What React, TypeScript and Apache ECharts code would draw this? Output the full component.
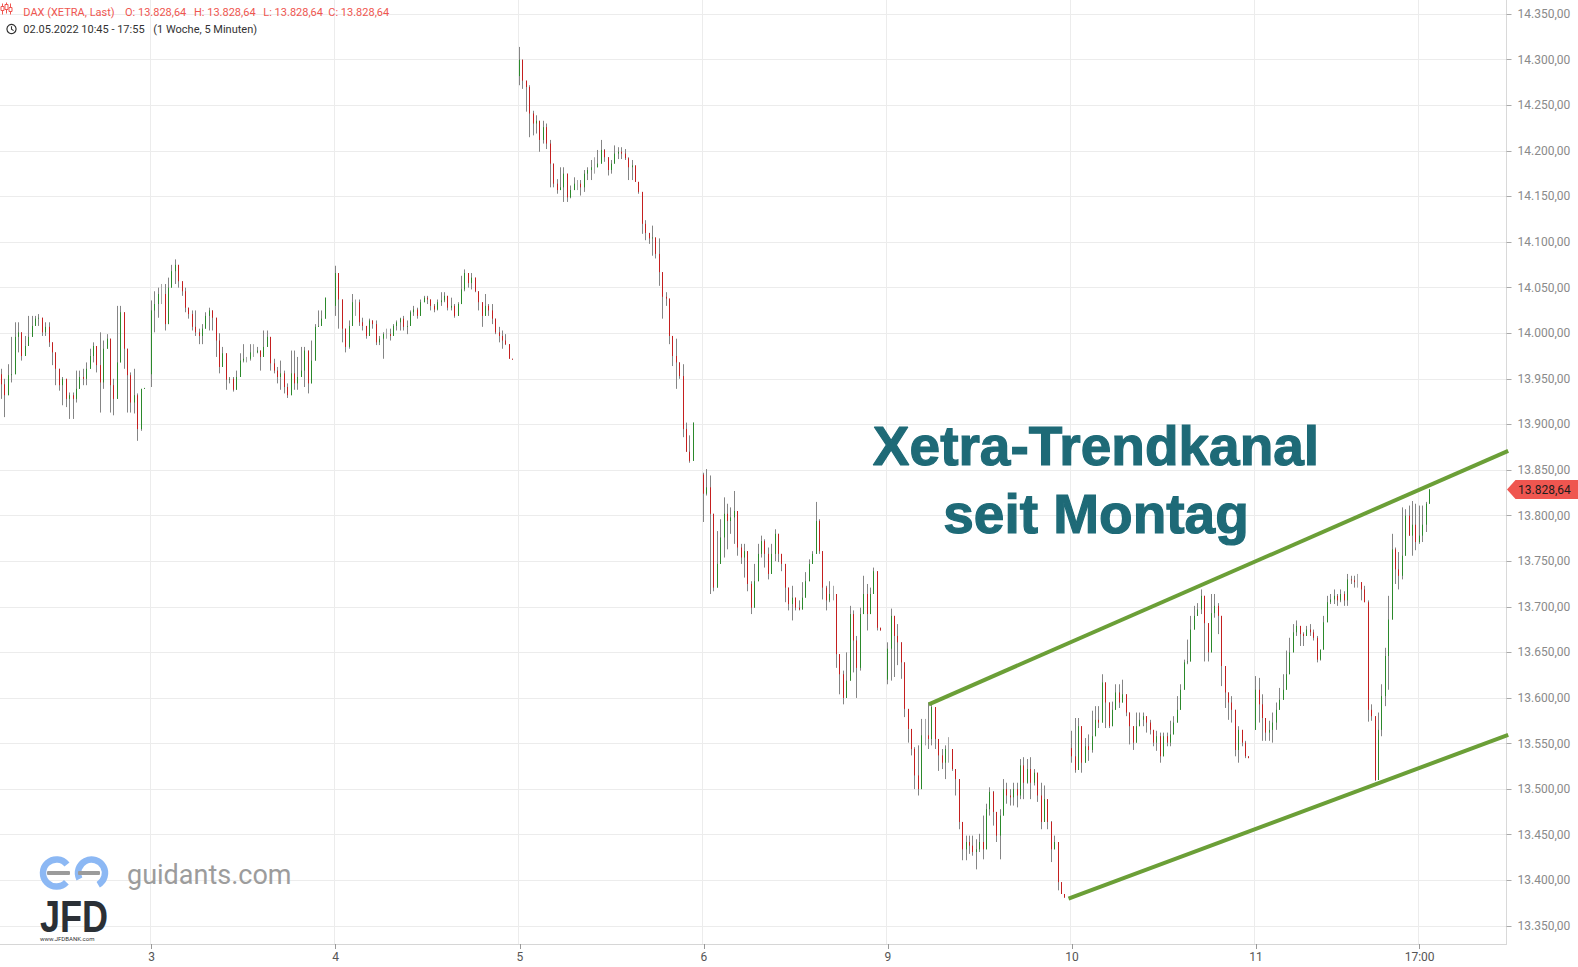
import React, { useEffect, useRef } from 'react';
import * as echarts from 'echarts';

// Trading sessions, 10-minute candles. Each session lists closes, highs and lows in order;
// a candle opens where the previous one closed (the first one at the session open).
const sessionDays = ['2', '3', '4', '5', '6', '9', '10', '11'];
const sessionFirstSlot = ['10:40', '09:00', '09:00', '09:00', '09:00', '09:00', '09:00', '09:00'];
const sessionOpens = [13955, 13955, 14030, 14282, 13845, 13620, 13545, 13565];

const closesMay02 = [
  13944, 13932, 13954, 13955, 13996, 14001, 13975, 13986, 13996, 14008,
  14016, 14017, 14001, 14007, 13990, 13979, 13961, 13943, 13950, 13928,
  13932, 13928, 13939, 13952, 13950, 13961, 13975, 13986, 13965, 13946,
  13983, 13994, 13943, 13928, 13968, 14023, 13983, 13954, 13924, 13932,
  13895, 13939, 13940, 13940,
];
const highsMay02 = [
  13961, 13950, 13966, 13996, 14012, 14012, 13996, 13997, 14019, 14019,
  14019, 14021, 14012, 14012, 14012, 13985, 13979, 13952, 13952, 13943,
  13935, 13935, 13959, 13959, 13961, 13968, 13983, 13990, 13986, 14001,
  13992, 13999, 13986, 13950, 14030, 14030, 13994, 13976, 13957, 13961,
  13934, 13939, 13940, 13940,
];
const lowsMay02 = [
  13928, 13908, 13946, 13946, 13996, 13979, 13970, 13979, 13986, 14001,
  14012, 14008, 13997, 13997, 13985, 13965, 13943, 13937, 13921, 13919,
  13906, 13906, 13924, 13943, 13943, 13943, 13963, 13968, 13957, 13913,
  13939, 13985, 13913, 13910, 13935, 13976, 13961, 13913, 13913, 13912,
  13882, 13893, 13940, 13940,
];

const closesMay03 = [
  14025, 14032, 14043, 14043, 14010, 14050, 14068, 14075, 14057, 14046,
  14028, 14021, 14007, 14001, 13997, 14005, 14019, 14025, 14017, 13992,
  13963, 13978, 13949, 13950, 13938, 13952, 13970, 13972, 13972, 13979,
  13979, 13981, 13974, 13985, 13996, 13967, 13959, 13952, 13956, 13941,
  13932, 13956, 13945, 13952, 13959, 13981, 13945, 13970, 14007, 14008,
  14016, 14039, 14039, 14039,
];
const highsMay03 = [
  14036, 14046, 14050, 14054, 14054, 14061, 14075, 14081, 14075, 14054,
  14050, 14025, 14025, 14025, 14005, 14010, 14023, 14028, 14023, 14007,
  14000, 13985, 13970, 13952, 13952, 13959, 13978, 13988, 13974, 13988,
  13988, 13985, 13981, 14003, 14003, 13992, 13972, 13963, 13970, 13959,
  13945, 13981, 13981, 13974, 13985, 13985, 13963, 13992, 14010, 14025,
  14025, 14039, 14039, 14039,
];
const lowsMay03 = [
  13941, 14001, 14017, 14032, 14003, 14025, 14057, 14054, 14050, 14041,
  14023, 14016, 14003, 13997, 13988, 13988, 14005, 14003, 14003, 13974,
  13956, 13967, 13938, 13945, 13936, 13947, 13959, 13968, 13968, 13970,
  13974, 13978, 13959, 13978, 13985, 13959, 13956, 13945, 13938, 13934,
  13929, 13945, 13938, 13938, 13952, 13941, 13934, 13963, 13990, 14007,
  14014, 14016, 14039, 14039,
];

const closesMay04 = [
  14066, 14037, 14005, 13985, 14008, 14034, 14034, 14012, 14008, 13997,
  14014, 14010, 13990, 13994, 13999, 13999, 13997, 14008, 14012, 14016,
  14007, 14008, 14023, 14026, 14019, 14034, 14039, 14037, 14030, 14026,
  14034, 14036, 14041, 14028, 14030, 14019, 14032, 14048, 14066, 14055,
  14061, 14046, 14034, 14019, 14030, 14025, 14016, 14001, 13997, 13992,
  13988, 13972, 13971, 13971,
];
const highsMay04 = [
  14074, 14039, 14034, 13994, 14014, 14043, 14037, 14037, 14017, 14008,
  14016, 14014, 14014, 13997, 14001, 14005, 14005, 14010, 14014, 14017,
  14019, 14014, 14025, 14030, 14028, 14037, 14041, 14041, 14037, 14032,
  14037, 14045, 14045, 14037, 14039, 14032, 14034, 14063, 14070, 14066,
  14066, 14057, 14046, 14034, 14043, 14032, 14032, 14010, 14007, 14003,
  13999, 13985, 13971, 13971,
];
const lowsMay04 = [
  14019, 14005, 13990, 13979, 13983, 14008, 14019, 14008, 14003, 13994,
  14001, 14005, 13987, 13987, 13972, 13994, 13992, 14001, 14003, 14003,
  14003, 13999, 14008, 14019, 14016, 14025, 14034, 14032, 14025, 14023,
  14025, 14030, 14034, 14025, 14025, 14017, 14023, 14039, 14046, 14050,
  14048, 14045, 14025, 14007, 14025, 14019, 14010, 13999, 13990, 13983,
  13987, 13972, 13971, 13971,
];

const closesMay05 = [
  14300, 14277, 14270, 14241, 14230, 14233, 14212, 14226, 14208, 14186,
  14164, 14157, 14160, 14175, 14149, 14157, 14164, 14164, 14160, 14175,
  14179, 14182, 14182, 14186, 14201, 14193, 14179, 14186, 14197, 14199,
  14197, 14192, 14182, 14184, 14166, 14155, 14120, 14110, 14104, 14105,
  14087, 14067, 14040, 14038, 13997, 13975, 13968, 13953, 13895, 13870,
  13860, 13902, 13902, 13902,
];
const highsMay05 = [
  14314, 14296, 14274, 14272, 14244, 14239, 14233, 14233, 14230, 14212,
  14182, 14169, 14182, 14182, 14164, 14162, 14171, 14168, 14168, 14179,
  14182, 14190, 14193, 14201, 14212, 14202, 14186, 14190, 14206, 14204,
  14204, 14202, 14193, 14190, 14184, 14164, 14153, 14124, 14109, 14118,
  14104, 14104, 14049, 14045, 14034, 13990, 13994, 13966, 13966, 13902,
  13888, 13902, 13902, 13902,
];
const lowsMay05 = [
  14272, 14268, 14243, 14215, 14217, 14219, 14199, 14208, 14202, 14160,
  14160, 14153, 14157, 14144, 14144, 14148, 14157, 14157, 14151, 14155,
  14168, 14168, 14175, 14182, 14190, 14188, 14173, 14175, 14190, 14191,
  14191, 14190, 14168, 14168, 14166, 14153, 14109, 14102, 14098, 14085,
  14082, 14052, 14016, 14030, 13988, 13964, 13939, 13950, 13886, 13871,
  13858, 13888, 13902, 13902,
];

const closesMay06 = [
  13824, 13831, 13802, 13721, 13747, 13776, 13802, 13794, 13798, 13805,
  13765, 13754, 13761, 13725, 13699, 13728, 13758, 13772, 13758, 13736,
  13758, 13780, 13758, 13747, 13721, 13703, 13710, 13699, 13697, 13710,
  13728, 13747, 13758, 13794, 13761, 13721, 13707, 13714, 13714, 13648,
  13626, 13600, 13619, 13692, 13663, 13633, 13692, 13714, 13692, 13714,
  13739, 13677, 13674, 13674,
];
const highsMay06 = [
  13847, 13851, 13844, 13734, 13783, 13796, 13820, 13813, 13809, 13827,
  13780, 13769, 13769, 13736, 13728, 13747, 13769, 13778, 13774, 13765,
  13769, 13785, 13771, 13754, 13739, 13710, 13723, 13707, 13707, 13727,
  13738, 13752, 13761, 13815, 13796, 13758, 13723, 13728, 13723, 13707,
  13633, 13630, 13650, 13701, 13696, 13668, 13699, 13734, 13725, 13721,
  13743, 13714, 13674, 13674,
];
const lowsMay06 = [
  13793, 13822, 13714, 13717, 13728, 13754, 13754, 13763, 13780, 13769,
  13756, 13747, 13732, 13717, 13692, 13717, 13743, 13754, 13743, 13730,
  13750, 13750, 13749, 13739, 13705, 13696, 13685, 13696, 13696, 13701,
  13719, 13736, 13750, 13771, 13758, 13708, 13696, 13705, 13707, 13633,
  13604, 13593, 13619, 13641, 13628, 13600, 13630, 13696, 13674, 13707,
  13714, 13674, 13674, 13674,
];

const closesMay09 = [
  13654, 13690, 13668, 13661, 13639, 13588, 13566, 13544, 13515, 13500,
  13559, 13559, 13555, 13590, 13555, 13537, 13529, 13544, 13544, 13522,
  13511, 13464, 13434, 13442, 13438, 13431, 13434, 13442, 13434, 13478,
  13497, 13475, 13449, 13471, 13500, 13493, 13491, 13500, 13493, 13526,
  13507, 13522, 13507, 13518, 13493, 13464, 13489, 13464, 13434, 13442,
  13398, 13385, 13381, 13381,
];
const highsMay09 = [
  13661, 13698, 13672, 13681, 13652, 13621, 13586, 13562, 13546, 13548,
  13577, 13577, 13595, 13593, 13562, 13553, 13544, 13548, 13557, 13533,
  13522, 13493, 13460, 13449, 13449, 13449, 13445, 13451, 13471, 13484,
  13502, 13498, 13462, 13478, 13511, 13507, 13500, 13507, 13507, 13533,
  13535, 13533, 13535, 13522, 13504, 13507, 13504, 13482, 13465, 13449,
  13436, 13392, 13381, 13381,
];
const lowsMay09 = [
  13615, 13619, 13623, 13636, 13621, 13579, 13551, 13537, 13500, 13493,
  13533, 13548, 13544, 13548, 13544, 13520, 13522, 13511, 13529, 13520,
  13493, 13456, 13422, 13422, 13429, 13427, 13412, 13431, 13423, 13449,
  13471, 13460, 13442, 13423, 13489, 13484, 13482, 13482, 13480, 13489,
  13489, 13506, 13489, 13504, 13486, 13456, 13482, 13456, 13420, 13434,
  13389, 13387, 13381, 13381,
];

const closesMay10 = [
  13536, 13521, 13569, 13529, 13547, 13543, 13558, 13576, 13573, 13617,
  13595, 13569, 13587, 13606, 13595, 13604, 13584, 13569, 13551, 13569,
  13576, 13580, 13573, 13565, 13551, 13558, 13536, 13558, 13551, 13560,
  13573, 13587, 13609, 13639, 13640, 13675, 13690, 13697, 13712, 13682,
  13650, 13693, 13701, 13690, 13635, 13606, 13595, 13587, 13543, 13565,
  13551, 13536, 13534, 13534,
];
const highsMay10 = [
  13564, 13578, 13578, 13564, 13556, 13560, 13586, 13591, 13591, 13626,
  13609, 13595, 13596, 13615, 13615, 13620, 13600, 13580, 13565, 13584,
  13584, 13584, 13576, 13576, 13564, 13564, 13562, 13562, 13562, 13575,
  13580, 13602, 13615, 13642, 13664, 13690, 13701, 13704, 13719, 13693,
  13675, 13714, 13714, 13704, 13679, 13628, 13602, 13602, 13580, 13569,
  13556, 13553, 13534, 13534,
];
const lowsMay10 = [
  13529, 13518, 13529, 13518, 13531, 13531, 13540, 13569, 13567, 13576,
  13567, 13567, 13576, 13598, 13589, 13598, 13580, 13549, 13543, 13560,
  13571, 13569, 13562, 13560, 13547, 13542, 13529, 13547, 13547, 13547,
  13562, 13580, 13593, 13613, 13637, 13664, 13681, 13692, 13692, 13640,
  13640, 13662, 13688, 13670, 13613, 13589, 13576, 13573, 13536, 13529,
  13547, 13534, 13534, 13534,
];

const closesMay11 = [
  13609, 13593, 13578, 13562, 13565, 13573, 13587, 13598, 13609, 13626,
  13650, 13672, 13679, 13670, 13668, 13675, 13672, 13666, 13642, 13653,
  13683, 13705, 13708, 13712, 13707, 13714, 13707, 13730, 13729, 13727,
  13727, 13719, 13705, 13587, 13580, 13510, 13565, 13602, 13646, 13686,
  13763, 13741, 13734, 13756, 13800, 13778, 13790, 13771, 13778, 13790,
  13813, 13828.64, 13828.64, 13828.64,
];
const highsMay11 = [
  13624, 13622, 13604, 13576, 13575, 13584, 13595, 13611, 13626, 13652,
  13666, 13681, 13685, 13674, 13672, 13679, 13681, 13675, 13668, 13652,
  13690, 13712, 13714, 13719, 13714, 13719, 13717, 13736, 13734, 13734,
  13736, 13723, 13723, 13707, 13593, 13580, 13584, 13615, 13655, 13712,
  13780, 13765, 13760, 13809, 13807, 13811, 13816, 13813, 13811, 13811,
  13815, 13829, 13828.64, 13828.64,
];
const lowsMay11 = [
  13565, 13573, 13553, 13553, 13553, 13551, 13565, 13587, 13602, 13613,
  13641, 13652, 13668, 13657, 13657, 13668, 13668, 13663, 13639, 13641,
  13661, 13688, 13703, 13703, 13701, 13705, 13701, 13701, 13725, 13721,
  13721, 13707, 13705, 13574, 13575, 13509, 13547, 13558, 13591, 13609,
  13701, 13725, 13719, 13730, 13765, 13778, 13756, 13762, 13769, 13771,
  13782, 13815, 13828.64, 13828.64,
];

const sessionCloses = [closesMay02, closesMay03, closesMay04, closesMay05, closesMay06, closesMay09, closesMay10, closesMay11];
const sessionHighs = [highsMay02, highsMay03, highsMay04, highsMay05, highsMay06, highsMay09, highsMay10, highsMay11];
const sessionLows = [lowsMay02, lowsMay03, lowsMay04, lowsMay05, lowsMay06, lowsMay09, lowsMay10, lowsMay11];
const trailingEmptySlots = 20;

// Trend channel, [slot index, price]
const upperChannel = [[272, 13593], [442, 13871]];
const lowerChannel = [[313, 13380], [442, 13559.5]];

const priceTickMin = 13350;
const priceTickMax = 14350;
const priceTickStep = 50;
const extraTimeLabel = '11|17:00';

const CHART_W = 1578;
const CHART_H = 967;
const PLOT_RIGHT = 71.5;
const PLOT_BOTTOM_PX = 944;
const TICK_TOP_PX = 14.1;
const TICK_BOTTOM_PX = 925.9;

const UP = '#2b892b';
const DOWN = '#c41f1f';
const WICK = '#858585';
const CHANNEL = '#6b9f37';
const TITLE = '#1e6a77';
const TAG = '#ef5650';

function pad(n: number) {
  return n < 10 ? '0' + n : String(n);
}

function fmtDE(v: number) {
  const [i, f] = v.toFixed(2).split('.');
  return i.replace(/\B(?=(\d{3})+(?!\d))/g, '.') + ',' + f;
}

const categories: string[] = [];
const wickCandles: number[][] = [];
const bodyCandles: number[][] = [];
sessionCloses.forEach((closes, d) => {
  const [hh, mm] = sessionFirstSlot[d].split(':').map(Number);
  let prev = sessionOpens[d];
  closes.forEach((c, k) => {
    const t = hh * 60 + mm + 10 * k;
    categories.push(`${sessionDays[d]}|${pad(Math.floor(t / 60))}:${pad(t % 60)}`);
    const hi = Math.max(sessionHighs[d][k], prev, c);
    const lo = Math.min(sessionLows[d][k], prev, c);
    wickCandles.push([prev, c, lo, hi]);
    bodyCandles.push([prev, c, Math.min(prev, c), Math.max(prev, c)]);
    prev = c;
  });
});
for (let i = 0; i < trailingEmptySlots; i++) categories.push(`-|${i}`);

const isLabelSlot = (_: number, value: string) =>
  value.endsWith('|09:00') || value === extraTimeLabel;

const lastClose = closesMay11[closesMay11.length - 1];

export default function App() {
  const ref = useRef<HTMLDivElement>(null);

  useEffect(() => {
    document.body.style.margin = '0';
    const chart = echarts.init(ref.current!, null, { renderer: 'svg' });

    const ptsPerPx = (priceTickMax - priceTickMin) / (TICK_BOTTOM_PX - TICK_TOP_PX);
    const plotMin = priceTickMin - (PLOT_BOTTOM_PX - TICK_BOTTOM_PX) * ptsPerPx;
    const plotMax = priceTickMax + TICK_TOP_PX * ptsPerPx;

    chart.setOption({
      animation: false,
      backgroundColor: '#ffffff',
      textStyle: { fontFamily: 'Roboto' },
      grid: [
        { left: 0, right: PLOT_RIGHT, top: 0, bottom: CHART_H - PLOT_BOTTOM_PX },
        { left: 0, right: PLOT_RIGHT, top: TICK_TOP_PX, bottom: CHART_H - TICK_BOTTOM_PX },
      ],
      xAxis: [
        {
          type: 'category',
          gridIndex: 0,
          data: categories,
          boundaryGap: true,
          axisLine: { show: true, onZero: false, lineStyle: { color: '#d6d6d6' } },
          axisTick: {
            show: true,
            interval: isLabelSlot,
            alignWithLabel: true,
            length: 5,
            lineStyle: { color: '#999999' },
          },
          axisLabel: {
            interval: isLabelSlot,
            color: '#555555',
            fontSize: 12,
            fontFamily: 'Roboto',
            margin: 7,
            formatter: (v: string) => {
              const [day, time] = v.split('|');
              return time === '09:00' ? day : time;
            },
          },
          splitLine: { show: true, interval: isLabelSlot, lineStyle: { color: '#ececec' } },
        },
        { type: 'value', gridIndex: 1, min: 0, max: 1, show: false },
      ],
      yAxis: [
        {
          type: 'value',
          gridIndex: 0,
          position: 'right',
          min: plotMin,
          max: plotMax,
          axisLine: { show: true, onZero: false, lineStyle: { color: '#d9d9d9' } },
          axisTick: { show: false },
          axisLabel: { show: false },
          splitLine: { show: false },
        },
        {
          type: 'value',
          gridIndex: 1,
          position: 'right',
          min: priceTickMin,
          max: priceTickMax,
          interval: priceTickStep,
          axisLine: { show: false, onZero: false },
          axisTick: { show: true, length: 5, lineStyle: { color: '#aaaaaa' } },
          axisLabel: {
            color: '#8a8a8a',
            fontSize: 12,
            fontFamily: 'Roboto',
            margin: 11,
            formatter: (v: number) => fmtDE(v),
          },
          splitLine: { show: true, lineStyle: { color: '#ececec' } },
        },
      ],
      series: [
        {
          type: 'candlestick',
          name: 'wicks',
          xAxisIndex: 0,
          yAxisIndex: 0,
          data: wickCandles,
          barWidth: 1,
          silent: true,
          itemStyle: {
            color: WICK,
            color0: WICK,
            borderColor: WICK,
            borderColor0: WICK,
            borderColorDoji: '#a8a8a8',
            borderWidth: 1,
          },
          z: 2,
        },
        {
          type: 'candlestick',
          name: 'DAX',
          xAxisIndex: 0,
          yAxisIndex: 0,
          data: bodyCandles,
          barWidth: 1,
          itemStyle: {
            color: UP,
            color0: DOWN,
            borderColor: UP,
            borderColor0: DOWN,
            borderColorDoji: '#a8a8a8',
            borderWidth: 1,
          },
          z: 3,
        },
        {
          type: 'line',
          xAxisIndex: 0,
          yAxisIndex: 0,
          data: upperChannel,
          showSymbol: false,
          symbol: 'none',
          silent: true,
          lineStyle: { color: CHANNEL, width: 4 },
          z: 4,
        },
        {
          type: 'line',
          xAxisIndex: 0,
          yAxisIndex: 0,
          data: lowerChannel,
          showSymbol: false,
          symbol: 'none',
          silent: true,
          lineStyle: { color: CHANNEL, width: 4 },
          z: 4,
        },
      ],
    });

    const tagY = chart.convertToPixel({ yAxisIndex: 0 }, lastClose) as number;
    const axisX = CHART_W - PLOT_RIGHT;
    const last = fmtDE(lastClose);
    const headerText = (text: string, x: number, y: number, fill: string) => ({
      type: 'text', x, y,
      style: { text, fill, fontSize: 11, fontFamily: 'Roboto', verticalAlign: 'middle' },
    });
    const headline = (text: string, y: number) => ({
      type: 'text', x: 1096, y, z: 20,
      style: {
        text, fill: TITLE, fontSize: 55, fontWeight: 'bold', fontFamily: 'Liberation Sans',
        align: 'center', verticalAlign: 'middle', stroke: TITLE, lineWidth: 1.2,
      },
    });

    chart.setOption({
      graphic: [
        // header line 1
        {
          type: 'group',
          left: 0,
          top: 0,
          children: [
            { type: 'line', shape: { x1: 8, y1: 7, x2: 8, y2: 18 }, style: { stroke: TAG, lineWidth: 1 } },
            { type: 'rect', shape: { x: 6.5, y: 10, width: 3, height: 4 }, style: { fill: '#fff', stroke: TAG, lineWidth: 1 } },
            { type: 'line', shape: { x1: 12, y1: 6, x2: 12, y2: 17 }, style: { stroke: TAG, lineWidth: 1 } },
            { type: 'rect', shape: { x: 10.5, y: 8, width: 3, height: 5 }, style: { fill: '#fff', stroke: TAG, lineWidth: 1 } },
            { type: 'line', shape: { x1: 16, y1: 7, x2: 16, y2: 18 }, style: { stroke: TAG, lineWidth: 1 } },
            { type: 'rect', shape: { x: 14.5, y: 11, width: 3, height: 4 }, style: { fill: '#fff', stroke: TAG, lineWidth: 1 } },
          ],
        },
        headerText('DAX (XETRA, Last)', 23.3, 12.7, TAG),
        headerText('O: ' + last, 125, 12.7, TAG),
        headerText('H: ' + last, 194, 12.7, TAG),
        headerText('L: ' + last, 263.3, 12.7, TAG),
        headerText('C: ' + last, 328.3, 12.7, TAG),
        // header line 2
        { type: 'circle', shape: { cx: 11.5, cy: 29, r: 4.6 }, style: { fill: 'none', stroke: '#333', lineWidth: 1.2 } },
        { type: 'polyline', shape: { points: [[11.5, 26.2], [11.5, 29.2], [13.6, 30.6]] }, style: { fill: 'none', stroke: '#333', lineWidth: 1.1 } },
        headerText('02.05.2022 10:45 - 17:55', 23.3, 29.3, '#333'),
        headerText('(1 Woche, 5 Minuten)', 153.3, 29.3, '#333'),
        // headline
        headline('Xetra-Trendkanal', 446),
        headline('seit Montag', 514),
        // last price tag
        {
          type: 'polygon', z: 20,
          shape: { points: [[axisX + 0.5, tagY], [axisX + 9, tagY - 9.5], [CHART_W, tagY - 9.5], [CHART_W, tagY + 9.5], [axisX + 9, tagY + 9.5]] },
          style: { fill: TAG },
        },
        {
          type: 'text', x: axisX + 11.5, y: tagY + 0.5, z: 21,
          style: { text: last, fill: '#1d1d1d', fontSize: 12, fontFamily: 'Roboto', verticalAlign: 'middle' },
        },
        // guidants logo
        { type: 'arc', shape: { cx: 56.5, cy: 873, r: 13.5, startAngle: 0.75, endAngle: 5.6, clockwise: true }, style: { stroke: '#8cb8f4', lineWidth: 6.5, fill: 'none' } },
        { type: 'arc', shape: { cx: 91.5, cy: 873, r: 13.5, startAngle: -3.6, endAngle: 1.05, clockwise: true }, style: { stroke: '#8cb8f4', lineWidth: 6.5, fill: 'none' } },
        { type: 'rect', shape: { x: 47, y: 871, width: 23, height: 4, r: 1 }, style: { fill: '#9b9b9b' } },
        { type: 'rect', shape: { x: 78, y: 871, width: 22, height: 4, r: 1 }, style: { fill: '#9b9b9b' } },
        { type: 'text', x: 127, y: 875, style: { text: 'guidants.com', fill: '#9c9c9c', fontSize: 27, fontFamily: 'Roboto', verticalAlign: 'middle' } },
        { type: 'text', x: 40, y: 917, scaleX: 0.82, style: { text: 'JFD', fill: '#2b3036', fontSize: 44, fontWeight: 'bold', fontFamily: 'Liberation Sans', verticalAlign: 'middle' } },
        { type: 'text', x: 40, y: 938.5, style: { text: 'www.JFDBANK.com', fill: '#333', fontSize: 6, fontFamily: 'Roboto', verticalAlign: 'middle' } },
      ],
    });

    return () => chart.dispose();
  }, []);

  return (
    <div
      ref={ref}
      style={{ position: 'absolute', left: 0, top: 0, width: CHART_W, height: CHART_H, background: '#fff' }}
    />
  );
}
